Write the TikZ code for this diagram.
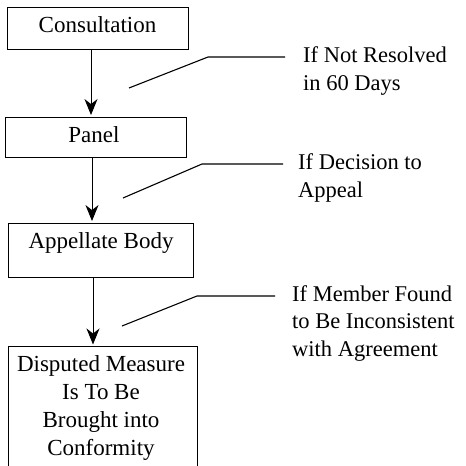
\documentclass[tikz,border=0pt]{standalone}
\usepackage{fontspec}
\setmainfont{Liberation Serif}
\usetikzlibrary{arrows.meta}
\begin{document}
\begin{tikzpicture}[x=1pt,y=-1pt,
 box/.style={draw, line width=0.9pt, inner sep=0pt},
 txt/.style={font=\fontsize{23}{28}\selectfont, inner sep=0pt, anchor=base, align=center},
 lbl/.style={font=\fontsize{22.5}{27.3}\selectfont, inner sep=0pt, anchor=base west, align=left},
 flow/.style={-{Stealth[length=16pt,width=13pt,inset=5pt]}, line width=1pt, shorten >=1.5pt},
 lead/.style={line width=1.1pt}]
\useasboundingbox (0,0) rectangle (466,466);
% boxes
\node[box, minimum width=181pt, minimum height=42pt] (c) at (97.5,28) {};
\node[box, minimum width=181pt, minimum height=40pt] (p) at (95.5,137) {};
\node[box, minimum width=185pt, minimum height=54pt] (ab) at (100.5,250) {};
\draw[line width=0.9pt] (8,467) -- (8,346) -- (197,346) -- (197,467);
\coordinate (dm) at (93,346);
% box texts (anchor base = baseline of the last line)
\node[txt] (ct) at (97.5,32) {Consultation};
\node[txt] (pt) at (94,142) {Panel};
\node[txt] (abt) at (101,248) {Appellate Body};
\node[txt] (dmt) at (101,455) {Disputed Measure\\Is To Be\\Brought into\\Conformity};
% flow arrows
\draw[flow] ([xshift=-6.5pt]c.south) -- ([xshift=-4.5pt]p.north);
\draw[flow] ([xshift=-3.5pt]p.south) -- ([xshift=-8.5pt]ab.north);
\draw[flow] ([xshift=-7.5pt]ab.south) -- (dm);
% labels
\node[lbl] (l1) at (303,90) {If Not Resolved\\in 60 Days};
\node[lbl] (l2) at (298,197) {If Decision to\\Appeal};
\node[lbl] (l3) at (292,356) {If Member Found\\to Be Inconsistent\\with Agreement};
% leader lines
\coordinate (s1) at (129,88); \coordinate (k1) at (208,57); \coordinate (e1) at (285,57);
\coordinate (s2) at (123,198); \coordinate (k2) at (202,164); \coordinate (e2) at (283,164);
\coordinate (s3) at (122,326); \coordinate (k3) at (197,296); \coordinate (e3) at (275,296);
\draw[lead] (s1) -- (k1) -- (e1);
\draw[lead] (s2) -- (k2) -- (e2);
\draw[lead] (s3) -- (k3) -- (e3);
\end{tikzpicture}
\end{document}
